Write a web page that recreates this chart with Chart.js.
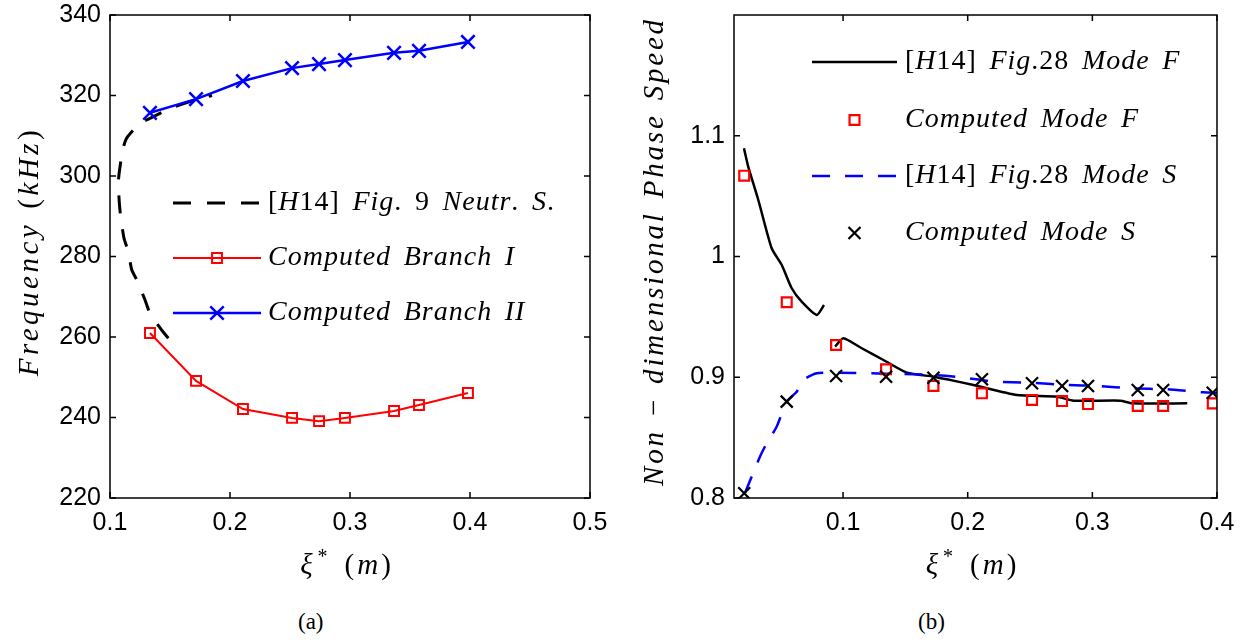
<!DOCTYPE html>
<html>
<head>
<meta charset="utf-8">
<script src="https://cdn.jsdelivr.net/npm/chart.js@4"></script>
<style>
  html, body { margin: 0; padding: 0; background: #fff; }
  body { width: 1247px; height: 640px; position: relative; overflow: hidden; }
  .box { position: absolute; top: 0; height: 600px; }
  .cap { position: absolute; top: 609px; font: 23px "Liberation Serif", serif; color: #000; }
</style>
</head>
<body>
<div class="box" style="left:0; width:620px;"><canvas id="chartA" width="620" height="600"></canvas></div>
<div class="box" style="left:620px; width:627px;"><canvas id="chartB" width="627" height="600"></canvas></div>
<div class="cap" style="left:298px;">(a)</div>
<div class="cap" style="left:918px;">(b)</div>
<script>
// (a) frequency vs xi*
const branchX = [0.1333, 0.1717, 0.2108, 0.2517, 0.2742, 0.2958, 0.3367, 0.3575, 0.3983];
const branchI = [261.0, 249.1, 242.1, 239.9, 239.1, 239.9, 241.6, 243.1, 246.1];
const branchII = [315.7, 319.1, 323.6, 326.8, 327.8, 328.8, 330.6, 331.1, 333.3];
const neutralX = [0.1486, 0.1431, 0.1333, 0.1292, 0.1223, 0.1181, 0.1153, 0.1117, 0.1089, 0.1078,
                  0.1069, 0.1078, 0.1106, 0.1139, 0.125, 0.1333, 0.15, 0.1667, 0.185];
const neutralY = [259.7, 261.7, 265.9, 269.2, 274.2, 276.7, 281.2, 284.5, 289.9, 293.2,
                  298.2, 301.1, 306.5, 309.4, 313.1, 314.3, 316.8, 318.5, 320.0];
const ticksAX = [0.1, 0.2, 0.3, 0.4, 0.5];
const ticksAY = [220, 240, 260, 280, 300, 320, 340];

// (b) phase speed vs xi*  (null splits the H14 mode F curve)
const h14FX = [0.0205, 0.0239, 0.0320, 0.0427, 0.0508, 0.0588, 0.0668, 0.0789, 0.0847, 0.089,
               0.0936, 0.1002, 0.1150, 0.1324, 0.1512, 0.1725, 0.1833, 0.2047, 0.2395, 0.2716,
               0.2850, 0.3225, 0.3319, 0.3761];
const h14FY = [1.0896, 1.0744, 1.0468, 1.0068, 0.9930, 0.9737, 0.9626, 0.9516, 0.9598, null,
               0.9253, 0.9323, 0.9240, 0.9143, 0.9038, 0.9005, 0.8983, 0.8936, 0.8853, 0.8839,
               0.8806, 0.8806, 0.8784, 0.8784];
const h14SX = [0.0213, 0.0333, 0.0387, 0.0467, 0.0548, 0.0628, 0.0681, 0.0789, 0.0949, 0.1725,
               0.1948, 0.2221, 0.2502, 0.2783, 0.3048, 0.3321, 0.3602, 0.3891, 0.4];
const h14SY = [0.8041, 0.8342, 0.8453, 0.8590, 0.8798, 0.8880, 0.8977, 0.9033, 0.9038, 0.9019,
               0.9000, 0.8963, 0.8955, 0.8936, 0.8928, 0.8908, 0.8900, 0.8875, 0.8872];
const compX = [0.0207, 0.0548, 0.0944, 0.1345, 0.1725, 0.2114, 0.2516, 0.2757, 0.2965, 0.3364, 0.3568, 0.3966];
const compF = [1.0669, 0.9621, 0.9267, 0.9066, 0.8928, 0.8867, 0.8812, 0.8803, 0.8778, 0.8762, 0.8762, 0.8784];
const compS = [0.8039, 0.8798, 0.9010, 0.9005, 0.8996, 0.8983, 0.8950, 0.8928, 0.8928, 0.8894, 0.8894, 0.8872];
const ticksBX = [0.1, 0.2, 0.3, 0.4];
const ticksBY = [0.8, 0.9, 1, 1.1];

const SERIF = '"Liberation Serif", serif';
const pts = (xs, ys) => xs.map((x, k) => ({x: x, y: ys[k]}));

// latex-ish text: letters italic, digits/punctuation upright, ^c raised
function mathText(ctx, str, x, y, size, align, spacing) {
    const parts = str.match(/\^.|[A-Za-z\u03be]+| +|[^A-Za-z\u03be ^]+/g);
    const fontFor = (p) => (/[A-Za-z\u03be]/.test(p) ? 'italic ' : '') + size + 'px ' + SERIF;
    ctx.letterSpacing = spacing + 'px';
    const widthOf = (p) => {
        if (p[0] === ' ') return p.length * size * 0.45;
        if (p[0] === '^') { ctx.font = Math.round(size * 0.7) + 'px ' + SERIF; return ctx.measureText(p[1]).width + 3; }
        ctx.font = fontFor(p);
        return ctx.measureText(p).width;
    };
    let w = 0;
    for (const p of parts) w += widthOf(p);
    let cx = align === 'center' ? x - w / 2 : (align === 'right' ? x - w : x);
    ctx.textAlign = 'left';
    ctx.textBaseline = 'middle';
    ctx.fillStyle = '#000';
    for (const p of parts) {
        const pw = widthOf(p);
        if (p[0] === '^') {
            ctx.font = Math.round(size * 0.7) + 'px ' + SERIF;
            ctx.fillText(p[1], cx + 2, y - size * 0.3);
        } else if (p[0] !== ' ') {
            ctx.font = fontFor(p);
            ctx.fillText(p, cx, y);
        }
        cx += pw;
    }
    ctx.letterSpacing = '0px';
}

const decor = {
    id: 'decor',
    afterDraw(chart, args, opts) {
        const {ctx, chartArea: a, scales: {x, y}} = chart;
        ctx.save();
        ctx.strokeStyle = '#000';
        ctx.lineWidth = 1.5;
        ctx.strokeRect(a.left, a.top, a.right - a.left, a.bottom - a.top);
        ctx.beginPath();
        for (const t of x.ticks) {
            const px = x.getPixelForValue(t.value);
            ctx.moveTo(px, a.bottom); ctx.lineTo(px, a.bottom - 6);
            ctx.moveTo(px, a.top); ctx.lineTo(px, a.top + 6);
        }
        for (const t of y.ticks) {
            const py = y.getPixelForValue(t.value);
            ctx.moveTo(a.left, py); ctx.lineTo(a.left + 6, py);
            ctx.moveTo(a.right, py); ctx.lineTo(a.right - 6, py);
        }
        ctx.stroke();

        // axis titles
        mathText(ctx, opts.xTitle, (a.left + a.right) / 2 - 3, 566, 29, 'center', 3);
        ctx.save();
        ctx.translate(opts.yTitleX, (a.top + a.bottom) / 2 - 5);
        ctx.rotate(-Math.PI / 2);
        mathText(ctx, opts.yTitle, 0, 0, 29, 'center', opts.yTitleSpacing);
        ctx.restore();

        // legend inside the axes, no box
        const lg = opts.legend;
        for (const it of lg.items) {
            const ds = chart.data.datasets[it.ds];
            if (ds.showLine !== false) {
                ctx.save();
                ctx.strokeStyle = ds.borderColor;
                ctx.lineWidth = ds.borderWidth;
                ctx.setLineDash(ds.borderDash || []);
                ctx.beginPath();
                ctx.moveTo(lg.x0, it.y); ctx.lineTo(lg.x1, it.y);
                ctx.stroke();
                ctx.restore();
            }
            if (ds.pointRadius > 0) {
                ctx.save();
                ctx.strokeStyle = ds.pointBorderColor;
                ctx.fillStyle = 'rgba(0,0,0,0)';
                ctx.lineWidth = ds.pointBorderWidth;
                ctx.setLineDash([]);
                Chart.helpers.drawPoint(ctx, {pointStyle: ds.pointStyle, radius: ds.pointRadius,
                    rotation: 0, borderWidth: ds.pointBorderWidth}, (lg.x0 + lg.x1) / 2, it.y);
                ctx.restore();
            }
            mathText(ctx, it.text, lg.tx, it.y, 28, 'left', 1);
        }
        ctx.restore();
    }
};

function setTicks(values) {
    return (scale) => { scale.ticks = values.map((v) => ({value: v})); };
}

function baseOptions(xr, yr, yWidth, ticksX, ticksY) {
    return {
        animation: false,
        responsive: false,
        events: [],
        layout: {padding: {left: 0, top: 15, right: 30, bottom: 0}},
        plugins: {legend: {display: false}, tooltip: {enabled: false}},
        scales: {
            x: {
                type: 'linear', min: xr[0], max: xr[1],
                grid: {display: false, drawTicks: false}, border: {display: false},
                ticks: {color: '#000', font: {family: 'Liberation Sans', size: 25}, padding: 10,
                        maxRotation: 0, callback: (v) => String(v)},
                afterBuildTicks: setTicks(ticksX),
                afterFit: (s) => { s.height = 102; s.paddingLeft = 0; s.paddingRight = 0; },
            },
            y: {
                type: 'linear', min: yr[0], max: yr[1],
                grid: {display: false, drawTicks: false}, border: {display: false},
                ticks: {color: '#000', font: {family: 'Liberation Sans', size: 25}, padding: 9,
                        callback: (v) => String(v)},
                afterBuildTicks: setTicks(ticksY),
                afterFit: (s) => { s.width = yWidth; s.paddingTop = 0; s.paddingBottom = 0; },
            },
        },
    };
}

const optA = baseOptions([0.1, 0.5], [220, 340], 110, ticksAX, ticksAY);
optA.plugins.decor = {
    xTitle: '\u03be^* (m)',
    yTitle: 'Frequency (kHz)',
    yTitleX: 30,
    yTitleSpacing: 3.5,
    legend: {x0: 173, x1: 261, tx: 268, items: [
        {ds: 2, y: 203, text: '[H14] Fig. 9 Neutr. S.'},
        {ds: 1, y: 258, text: 'Computed Branch I'},
        {ds: 0, y: 313, text: 'Computed Branch II'},
    ]},
};

new Chart('chartA', {
    type: 'scatter',
    data: {datasets: [
        {label: 'Computed Branch II', data: pts(branchX, branchII), showLine: true,
         borderColor: '#0000ff', borderWidth: 2.5, pointStyle: 'crossRot', pointRadius: 9.5,
         pointBorderColor: '#0000ff', pointBorderWidth: 2.5},
        {label: 'Computed Branch I', data: pts(branchX, branchI), showLine: true,
         borderColor: '#ff0000', borderWidth: 2, pointStyle: 'rect', pointRadius: 7,
         pointBorderColor: '#ff0000', pointBackgroundColor: 'rgba(0,0,0,0)', pointBorderWidth: 2},
        {label: '[H14] Fig. 9 Neutr. S.', data: pts(neutralX, neutralY), showLine: true,
         borderColor: '#000', borderWidth: 3, borderDash: [18, 16], pointRadius: 0, tension: 0.2},
    ]},
    options: optA,
    plugins: [decor],
});

const optB = baseOptions([0.0125, 0.4], [0.8, 1.2], 114, ticksBX, ticksBY);
optB.plugins.decor = {
    xTitle: '\u03be^* (m)',
    yTitle: 'Non \u2212 dimensional Phase Speed',
    yTitleX: 35,
    yTitleSpacing: 2.8,
    legend: {x0: 192, x1: 277, tx: 285, items: [
        {ds: 3, y: 62, text: '[H14] Fig.28 Mode F'},
        {ds: 1, y: 120, text: 'Computed Mode F'},
        {ds: 2, y: 176, text: '[H14] Fig.28 Mode S'},
        {ds: 0, y: 233, text: 'Computed Mode S'},
    ]},
};

new Chart('chartB', {
    type: 'scatter',
    data: {datasets: [
        {label: 'Computed Mode S', data: pts(compX, compS), showLine: false,
         pointStyle: 'crossRot', pointRadius: 8.5, pointBorderColor: '#000', pointBorderWidth: 2.2},
        {label: 'Computed Mode F', data: pts(compX, compF), showLine: false,
         pointStyle: 'rect', pointRadius: 7, pointBorderColor: '#ff0000',
         pointBackgroundColor: 'rgba(0,0,0,0)', pointBorderWidth: 2.2},
        {label: '[H14] Fig.28 Mode S', data: pts(h14SX, h14SY), showLine: true,
         borderColor: '#0000ff', borderWidth: 2.5, borderDash: [18, 15], pointRadius: 0, tension: 0.2},
        {label: '[H14] Fig.28 Mode F', data: pts(h14FX, h14FY), showLine: true, spanGaps: false,
         borderColor: '#000', borderWidth: 2.5, pointRadius: 0, tension: 0.2},
    ]},
    options: optB,
    plugins: [decor],
});
</script>
</body>
</html>
